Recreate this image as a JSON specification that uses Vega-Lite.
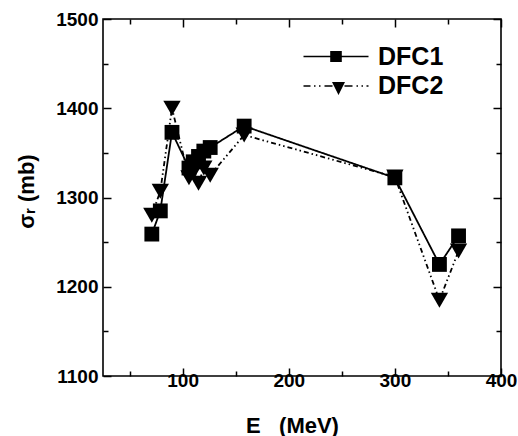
{
  "$schema": "https://vega.github.io/schema/vega-lite/v6.json",
  "width": 398,
  "height": 357,
  "autosize": {"type": "none"},
  "padding": {"left": 103, "top": 19, "right": 17, "bottom": 60},
  "background": "white",
  "config": {
    "view": {"stroke": "black", "strokeWidth": 1.6},
    "font": "Liberation Sans",
    "axis": {
      "domain": false,
      "grid": false,
      "labelFlush": false,
      "labelOverlap": false,
      "tickColor": "black",
      "tickWidth": 1.5,
      "labelFont": "Liberation Sans",
      "labelFontSize": 19,
      "labelFontWeight": "bold",
      "labelColor": "black",
      "titleFont": "Liberation Sans",
      "titleFontSize": 22,
      "titleFontWeight": "bold",
      "titleColor": "black"
    }
  },
  "data": {
    "values": [
      {"E": 71, "sigma": 1280, "s": "DFC2"},
      {"E": 79, "sigma": 1307, "s": "DFC2"},
      {"E": 90, "sigma": 1400, "s": "DFC2"},
      {"E": 106, "sigma": 1322, "s": "DFC2"},
      {"E": 110, "sigma": 1328, "s": "DFC2"},
      {"E": 115, "sigma": 1316, "s": "DFC2"},
      {"E": 120, "sigma": 1333, "s": "DFC2"},
      {"E": 126, "sigma": 1325, "s": "DFC2"},
      {"E": 158, "sigma": 1370, "s": "DFC2"},
      {"E": 300, "sigma": 1323, "s": "DFC2"},
      {"E": 342, "sigma": 1185, "s": "DFC2"},
      {"E": 360, "sigma": 1240, "s": "DFC2"},
      {"E": 71, "sigma": 1259, "s": "DFC1"},
      {"E": 79, "sigma": 1285, "s": "DFC1"},
      {"E": 90, "sigma": 1373, "s": "DFC1"},
      {"E": 106, "sigma": 1333, "s": "DFC1"},
      {"E": 110, "sigma": 1340, "s": "DFC1"},
      {"E": 115, "sigma": 1346, "s": "DFC1"},
      {"E": 120, "sigma": 1352, "s": "DFC1"},
      {"E": 126, "sigma": 1356, "s": "DFC1"},
      {"E": 158, "sigma": 1380, "s": "DFC1"},
      {"E": 300, "sigma": 1322, "s": "DFC1"},
      {"E": 342, "sigma": 1225, "s": "DFC1"},
      {"E": 360, "sigma": 1257, "s": "DFC1"}
    ]
  },
  "layer": [
    {
      "mark": {"type": "line", "color": "black", "strokeWidth": 1.8},
      "encoding": {
        "x": {
          "field": "E", "type": "quantitative",
          "scale": {"domain": [25, 400], "nice": false, "zero": false},
          "axis": {
            "orient": "bottom",
            "values": [50, 100, 150, 200, 250, 300, 350, 400],
            "format": "d",
            "labelExpr": "datum.value % 100 === 0 ? datum.label : ''",
            "tickSize": {"condition": {"test": "datum.value % 100 === 0", "value": -8}, "value": -5},
            "labelPadding": 3,
            "title": "E\u00a0\u00a0\u00a0(MeV)",
            "titleX": 189,
            "titleY": 39
          }
        },
        "y": {
          "field": "sigma", "type": "quantitative",
          "scale": {"domain": [1100, 1500], "nice": false, "zero": false},
          "axis": {
            "orient": "left",
            "values": [1100, 1150, 1200, 1250, 1300, 1350, 1400, 1450, 1500],
            "format": "d",
            "labelExpr": "datum.value % 100 === 0 ? datum.label : ''",
            "tickSize": {"condition": {"test": "datum.value % 100 === 0", "value": -8}, "value": -5},
            "labelPadding": 13,
            "title": "σᵣ (mb)",
            "titleX": -65,
            "titleY": 172
          }
        },
        "strokeDash": {
          "field": "s", "type": "nominal",
          "scale": {"domain": ["DFC1", "DFC2"], "range": [[1, 0], [5, 3, 1.5, 3, 1.5, 3]]},
          "legend": null
        }
      }
    },
    {
      "mark": {"type": "point", "filled": true, "color": "black", "opacity": 1},
      "encoding": {
        "x": {
          "field": "E", "type": "quantitative",
          "axis": {
            "orient": "top",
            "values": [50, 100, 150, 200, 250, 300, 350, 400],
            "labels": false,
            "tickSize": {"condition": {"test": "datum.value % 100 === 0", "value": -8}, "value": -5},
            "title": null
          }
        },
        "y": {
          "field": "sigma", "type": "quantitative",
          "axis": {
            "orient": "right",
            "values": [1100, 1150, 1200, 1250, 1300, 1350, 1400, 1450, 1500],
            "labels": false,
            "tickSize": {"condition": {"test": "datum.value % 100 === 0", "value": -8}, "value": -5},
            "title": null
          }
        },
        "shape": {
          "field": "s", "type": "nominal",
          "scale": {"domain": ["DFC1", "DFC2"], "range": ["square", "triangle-down"]},
          "legend": null
        },
        "size": {
          "field": "s", "type": "nominal",
          "scale": {"domain": ["DFC1", "DFC2"], "range": [220, 300]},
          "legend": null
        }
      }
    },
    {
      "transform": [{"filter": "datum.E < 0"}],
      "mark": {"type": "point", "filled": true, "color": "black", "opacity": 1},
      "encoding": {
        "x": {"field": "E", "type": "quantitative", "axis": null},
        "y": {"field": "sigma", "type": "quantitative", "axis": null},
        "shape": {
          "field": "s", "type": "nominal",
          "scale": {
            "domain": ["DFC1", "DFC2"],
            "range": [
              "M -1 -0.08 H 5.5 V 0.08 H -1 Z M 1.67 -0.55 H 2.83 V 0.55 H 1.67 Z",
              "M -1 -0.08 H -0.3 V 0.08 H -1 Z M 0.05 -0.08 H 0.2 V 0.08 H 0.05 Z M 0.55 -0.08 H 0.7 V 0.08 H 0.55 Z M 1.1 -0.08 H 1.9 V 0.08 H 1.1 Z M 1.85 -0.4 H 3.15 L 2.5 0.9 Z M 3.1 -0.08 H 3.9 V 0.08 H 3.1 Z M 4.3 -0.08 H 4.45 V 0.08 H 4.3 Z M 4.8 -0.08 H 4.95 V 0.08 H 4.8 Z M 5.3 -0.08 H 5.5 V 0.08 H 5.3 Z"
            ]
          },
          "legend": {
            "title": null,
            "orient": "none",
            "legendX": 198,
            "legendY": 25,
            "padding": 0,
            "symbolSize": 400,
            "symbolStrokeWidth": 0,
            "symbolFillColor": "black",
            "labelFont": "Liberation Sans",
            "labelFontSize": 25,
            "labelFontWeight": "bold",
            "labelColor": "black",
            "labelOffset": 52,
            "rowPadding": 3.5
          }
        }
      }
    }
  ],
  "resolve": {
    "axis": {"x": "independent", "y": "independent"},
    "scale": {"shape": "independent"}
  }
}
